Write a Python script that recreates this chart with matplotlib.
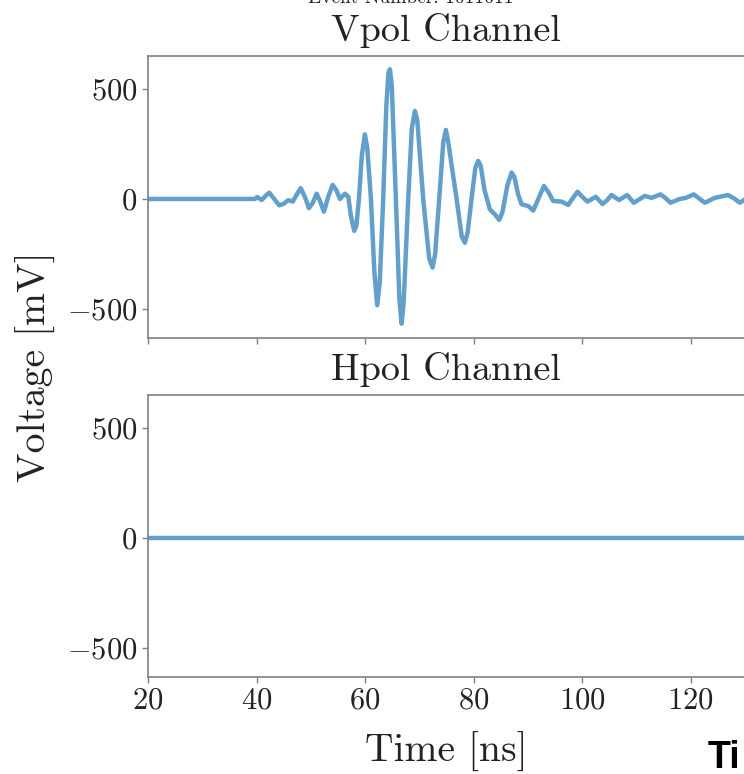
import matplotlib
matplotlib.use("Agg")
import matplotlib.pyplot as plt

plt.rcParams['font.family'] = ['cmr10', 'DejaVu Serif']
plt.rcParams['mathtext.fontset'] = 'cm'
plt.rcParams['axes.formatter.use_mathtext'] = True

# Vpol waveform (time in ns, voltage in mV)
vpol_t = [20.0, 39.7, 40.13, 40.94, 41.7, 42.34, 43.1, 44.18, 45.0, 45.84,
          46.65, 47.4, 48.12, 48.9, 49.65, 50.4, 51.07, 51.7, 52.41, 53.2,
          54.01, 54.7, 55.36, 56.28, 56.9, 57.4, 57.99, 58.4, 58.86, 59.4,
          59.96, 60.4, 61.07, 61.7, 62.23, 62.7, 63.33, 63.9, 64.3, 64.57,
          64.9, 65.67, 66.3, 66.72, 67.1, 67.94, 68.6, 69.17, 69.6, 70.7,
          71.8, 72.43, 72.9, 73.65, 74.4, 74.88, 75.3, 76.85, 77.8, 78.38,
          78.9, 79.6, 80.3, 80.83, 81.3, 82.0, 82.98, 83.9, 84.70, 85.3,
          86.2, 86.98, 87.5, 88.2, 88.82, 90.04, 90.96, 91.9, 92.93, 93.8,
          94.64, 96.19, 97.40, 98.3, 99.13, 100.0, 100.97, 102.50, 103.74, 104.6,
          105.39, 106.79, 108.27, 109.50, 110.5, 111.53, 112.76, 114.42, 115.3, 116.26,
          117.97, 119.08, 120.55, 121.5, 122.58, 124.42, 126.87, 128.0, 129.02, 129.8]
vpol_v = [0, 0, 9, -5, 15, 29, 5, -29, -22, -5,
          -12, 20, 49, 10, -42, -15, 24, -10, -58, 10,
          64, 40, 0, 24, 10, -80, -145, -120, 0, 200,
          294, 230, 0, -330, -483, -380, 0, 420, 575, 590,
          520, 0, -450, -567, -470, 0, 320, 400, 360, 0,
          -270, -312, -250, 0, 260, 314, 260, 0, -170, -199,
          -150, 0, 140, 173, 150, 40, -47, -70, -95, -60,
          60, 120, 100, 20, -24, -32, -53, 0, 59, 30,
          -9, -12, -27, 5, 33, 10, -12, 10, -23, -5,
          18, -5, 18, -17, -2, 14, 5, 21, 5, -17,
          0, 5, 21, 3, -17, 5, 18, 2, -17, -5]

hpol_t = [20.0, 129.8]
hpol_v = [0, 0]

xticks = [20, 40, 60, 80, 100, 120]
yticks = [-500, 0, 500]

W, H = 744, 774
fig = plt.figure(figsize=(W / 100, H / 100), dpi=100)

line_color = '#1f77b4'
spine_color = '#808080'


def setup(ax, title):
    ax.set_xlim(20, 129.8)
    ax.set_ylim(-632, 650)
    ax.set_xticks(xticks)
    ax.set_yticks(yticks)
    ax.spines['right'].set_visible(False)
    for s in ['left', 'top', 'bottom']:
        ax.spines[s].set_color(spine_color)
        ax.spines[s].set_linewidth(1.2)
    ax.tick_params(colors=spine_color, labelcolor='#222222', labelsize=22,
                   length=4, width=1)
    ax.set_title(title, fontsize=27.5, color='#222222', pad=10.5)


ax1 = fig.add_axes([148 / W, 1 - 338 / H, 1 - 148 / W, 282 / H])
ax1.plot(vpol_t, vpol_v, color=line_color, alpha=0.7, lw=3.2)
setup(ax1, 'Vpol Channel')
ax1.tick_params(labelbottom=False)

ax2 = fig.add_axes([148 / W, 1 - 677 / H, 1 - 148 / W, 282 / H])
ax2.plot(hpol_t, hpol_v, color=line_color, alpha=0.7, lw=3.2)
setup(ax2, 'Hpol Channel')

fig.text(36 / W, 1 - 367 / H, 'Voltage [mV]', rotation=90, ha='center',
         va='center', fontsize=28.5, color='#222222')
fig.text(446 / W, 1 - 752 / H, 'Time [ns]', ha='center', va='center',
         fontsize=28.5, color='#222222')
fig.text(411 / W, 1 - 3 / H, 'Event Number: 1011611', ha='center',
         va='baseline', fontsize=14, color='#222222')
fig.text(740 / W, 1 - 768 / H, 'Ti', ha='right', va='baseline',
         fontsize=27, fontweight='bold', family='Liberation Sans', color='black')

fig.savefig('out.png', dpi=100)
